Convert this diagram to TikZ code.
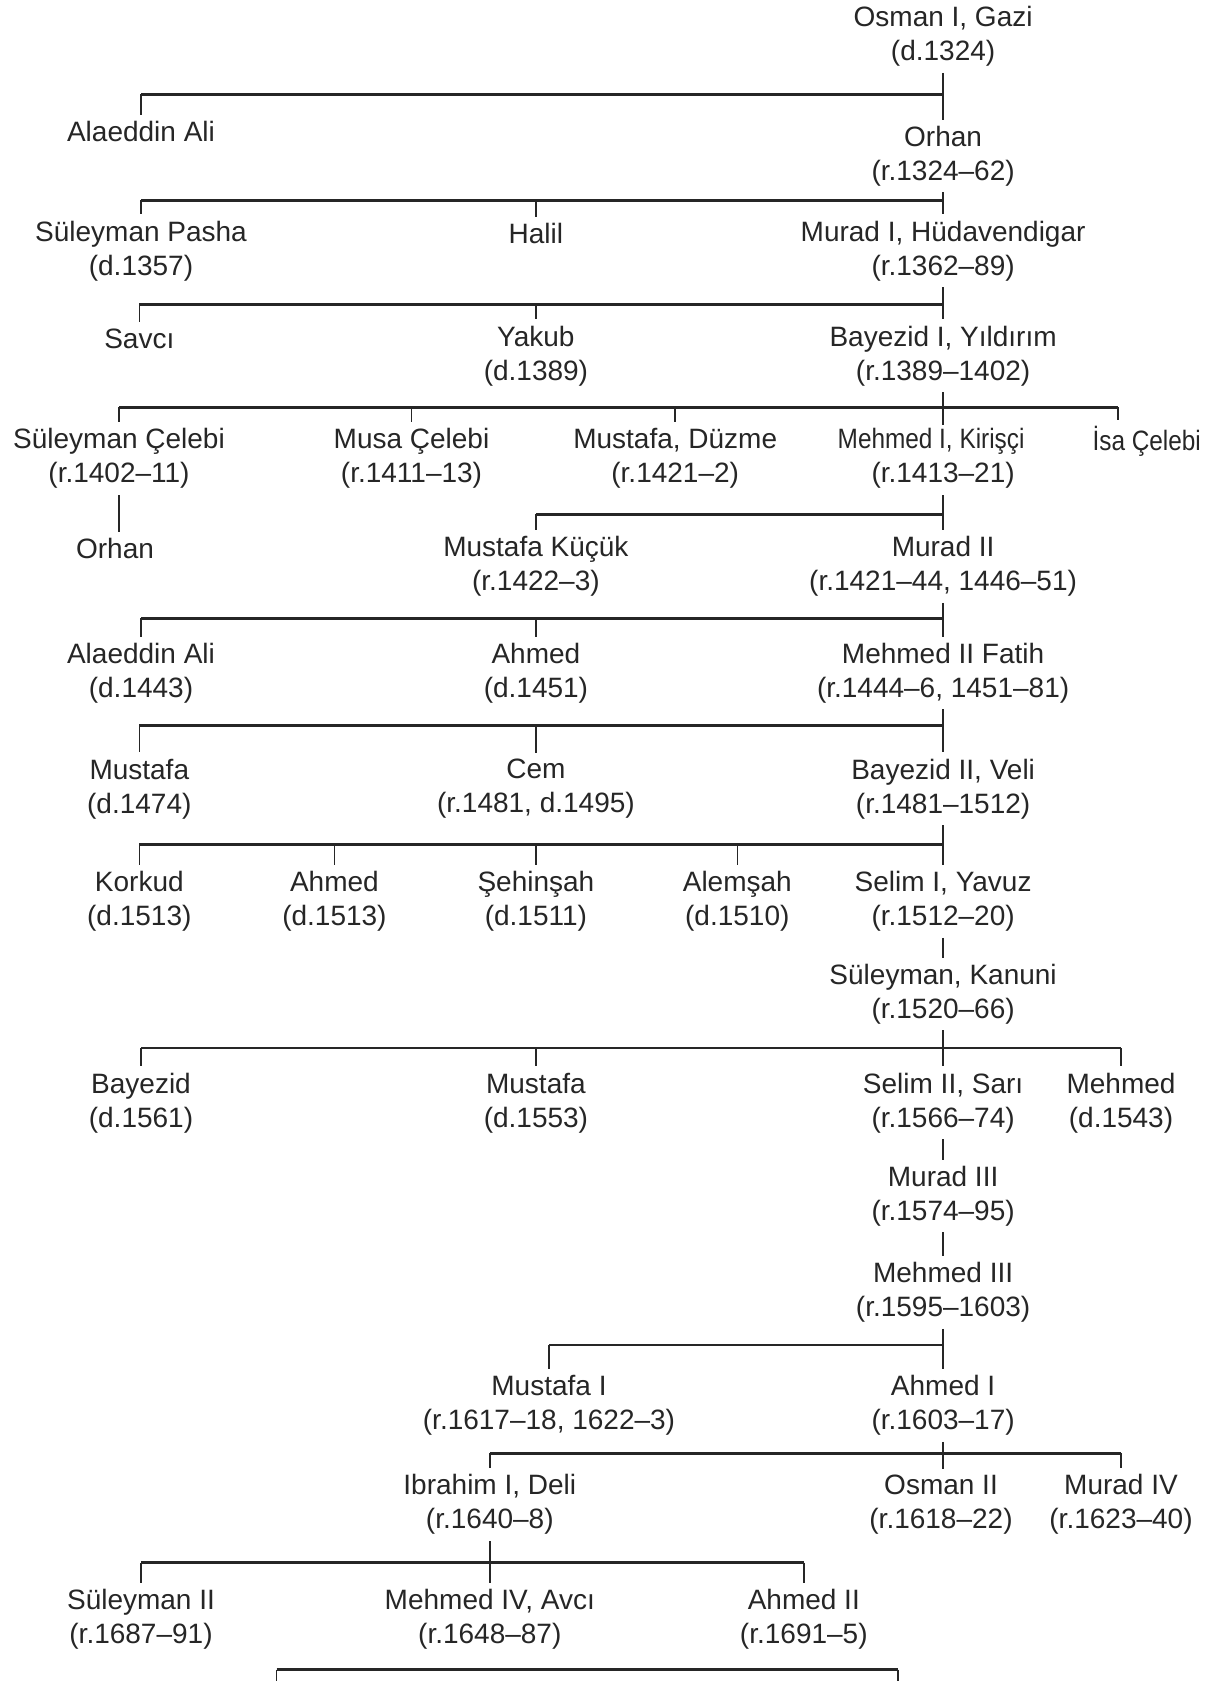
\documentclass[tikz,border=0pt]{standalone}
\usepackage{fontspec}
\setmainfont{Liberation Sans}
\newfontfamily\narrowfont[FakeStretch=0.87]{Liberation Sans}
\begin{document}
\begin{tikzpicture}[x=0.5pt,y=-0.5pt,
    person/.style={align=center,inner sep=3pt,text=black!85,font=\fontsize{14}{17}\selectfont},
    bar/.style={line width=1.3pt,black!85},
    tick/.style={line width=0.8pt,black!85}]
  \fill[white] (0,0) rectangle (1211,1681);
  \useasboundingbox (0,0) rectangle (1211,1681);
  % heights of the family bars
  \coordinate (b1) at (0,94.3);
  \coordinate (b2) at (0,200.4);
  \coordinate (b3) at (0,304.4);
  \coordinate (b4) at (0,407.2);
  \coordinate (b5) at (0,514.4);
  \coordinate (b6) at (0,618.4);
  \coordinate (b7) at (0,725.5);
  \coordinate (b8) at (0,844.5);
  \coordinate (b9) at (0,1048.1);
  \coordinate (b10) at (0,1345);
  \coordinate (b11) at (0,1453.2);
  \coordinate (b12) at (0,1562.5);

  \node[person] (osman) at (943.1,36.4) {Osman I, Gazi\\(d.1324)};
  \node[person] (alaeddinA) at (141,131.8) {Alaeddin Ali};
  \node[person] (orhan) at (943.1,156) {Orhan\\(r.1324–62)};

  \node[person] (suleymanP) at (141,250.8) {Süleyman Pasha\\(d.1357)};
  \node[person] (halil) at (535.9,233.6) {Halil};
  \node[person] (murad1) at (943.1,250.8) {Murad I, Hüdavendigar\\(r.1362–89)};

  \node[person] (savci) at (139.3,338.7) {Savcı};
  \node[person] (yakub) at (535.9,355.8) {Yakub\\(d.1389)};
  \node[person] (bayezid1) at (943.1,355.8) {Bayezid I, Yıldırım\\(r.1389–1402)};

  \node[person] (sulC) at (119,458.7) {Süleyman Çelebi\\(r.1402–11)};
  \node[person] (musa) at (411.5,458.7) {Musa Çelebi\\(r.1411–13)};
  \node[person] (mustafaD) at (675.2,458.7) {Mustafa, Düzme\\(r.1421–2)};
  \node[person] (mehmed1) at (943.1,458.7) {{\narrowfont Mehmed I, Kirişçi}\hspace*{12pt}\\(r.1413–21)};
  \node[person] (isa) at (1146.7,441.5) {\narrowfont İsa Çelebi};
  \coordinate (isaT) at ([xshift=-14.5pt]isa.north);

  \node[person] (orhanB) at (115,548.7) {Orhan};
  \node[person] (mustafaK) at (535.9,566.4) {Mustafa Küçük\\(r.1422–3)};
  \node[person] (murad2) at (943.1,566.4) {Murad II\\(r.1421–44, 1446–51)};

  \node[person] (alaeddinB) at (141,673) {Alaeddin Ali\\(d.1443)};
  \node[person] (ahmedA) at (535.9,673) {Ahmed\\(d.1451)};
  \node[person] (mehmed2) at (943.1,673) {Mehmed II Fatih\\(r.1444–6, 1451–81)};

  \node[person] (mustafaA) at (139.3,788.8) {Mustafa\\(d.1474)};
  \node[person] (cem) at (535.9,788.8) {Cem\\(r.1481, d.1495)};
  \node[person] (bayezid2) at (943.1,788.8) {Bayezid II, Veli\\(r.1481–1512)};

  \node[person] (korkud) at (139.3,901.3) {Korkud\\(d.1513)};
  \node[person] (ahmedB) at (334.4,901.3) {Ahmed\\(d.1513)};
  \node[person] (sehinsah) at (535.9,901.3) {Şehinşah\\(d.1511)};
  \node[person] (alemsah) at (737.3,901.3) {Alemşah\\(d.1510)};
  \node[person] (selim1) at (943.1,901.3) {Selim I, Yavuz\\(r.1512–20)};
  \node[person] (kanuni) at (943.1,994) {Süleyman, Kanuni\\(r.1520–66)};

  \node[person] (bayezidB) at (141,1102.8) {Bayezid\\(d.1561)};
  \node[person] (mustafaB) at (535.9,1102.8) {Mustafa\\(d.1553)};
  \node[person] (selim2) at (943.1,1102.8) {Selim II, Sarı\\(r.1566–74)};
  \node[person] (mehmedA) at (1121,1102.8) {Mehmed\\(d.1543)};
  \node[person] (murad3) at (943.1,1196) {Murad III\\(r.1574–95)};
  \node[person] (mehmed3) at (943.1,1292.5) {Mehmed III\\(r.1595–1603)};

  \node[person] (mustafa1) at (549,1405.5) {Mustafa I\\(r.1617–18, 1622–3)};
  \node[person] (ahmed1) at (943.1,1405.5) {Ahmed I\\(r.1603–17)};

  \node[person] (ibrahim) at (489.8,1504.7) {Ibrahim I, Deli\\(r.1640–8)};
  \node[person] (osman2) at (941,1504.7) {Osman II\\(r.1618–22)};
  \node[person] (murad4) at (1121,1504.7) {Murad IV\\(r.1623–40)};

  \node[person] (suleyman2) at (141,1619.3) {Süleyman II\\(r.1687–91)};
  \node[person] (mehmed4) at (489.8,1619.3) {Mehmed IV, Avcı\\(r.1648–87)};
  \node[person] (ahmed2) at (803.8,1619.3) {Ahmed II\\(r.1691–5)};

  \coordinate (b13l) at (276.5,1669.7);
  \coordinate (b13r) at (898.1,1669.7);

  % Osman I
  \draw[tick] (osman.south) -- (orhan.north);
  \draw[bar] (alaeddinA |- b1) -- (osman |- b1);
  \draw[tick] (alaeddinA |- b1) -- (alaeddinA.north);
  % Orhan
  \draw[tick] (orhan.south) -- (murad1.north);
  \draw[bar] (suleymanP |- b2) -- (orhan |- b2);
  \draw[tick] (suleymanP |- b2) -- (suleymanP.north);
  \draw[tick] (halil |- b2) -- (halil.north);
  % Murad I
  \draw[tick] (murad1.south) -- (bayezid1.north);
  \draw[bar] (savci |- b3) -- (murad1 |- b3);
  \draw[tick] (savci |- b3) -- (savci.north);
  \draw[tick] (yakub |- b3) -- (yakub.north);
  % Bayezid I
  \draw[tick] (bayezid1.south) -- (mehmed1 |- b4) -- ++(0,18);
  \draw[bar] (sulC |- b4) -- (isaT |- b4);
  \draw[tick] (sulC |- b4) -- (sulC.north);
  \draw[tick] (musa |- b4) -- (musa.north);
  \draw[tick] (mustafaD |- b4) -- (mustafaD.north);
  \draw[tick] (isaT |- b4) -- (isaT);
  \draw[tick] (sulC.south) -- (sulC |- orhanB.north);
  % Mehmed I
  \draw[tick] (mehmed1.south) -- (murad2.north);
  \draw[bar] (mustafaK |- b5) -- (mehmed1 |- b5);
  \draw[tick] (mustafaK |- b5) -- (mustafaK.north);
  % Murad II
  \draw[tick] (murad2.south) -- (mehmed2.north);
  \draw[bar] (alaeddinB |- b6) -- (murad2 |- b6);
  \draw[tick] (alaeddinB |- b6) -- (alaeddinB.north);
  \draw[tick] (ahmedA |- b6) -- (ahmedA.north);
  % Mehmed II
  \draw[tick] (mehmed2.south) -- (bayezid2.north);
  \draw[bar] (mustafaA |- b7) -- (mehmed2 |- b7);
  \draw[tick] (mustafaA |- b7) -- (mustafaA.north);
  \draw[tick] (cem |- b7) -- (cem.north);
  % Bayezid II
  \draw[tick] (bayezid2.south) -- (selim1.north);
  \draw[bar] (korkud |- b8) -- (bayezid2 |- b8);
  \draw[tick] (korkud |- b8) -- (korkud.north);
  \draw[tick] (ahmedB |- b8) -- (ahmedB.north);
  \draw[tick] (sehinsah |- b8) -- (sehinsah.north);
  \draw[tick] (alemsah |- b8) -- (alemsah.north);
  % Selim I
  \draw[tick] (selim1.south) -- (kanuni.north);
  % Suleyman
  \draw[tick] (kanuni.south) -- (selim2.north);
  \draw[bar] (bayezidB |- b9) -- (mehmedA |- b9);
  \draw[tick] (bayezidB |- b9) -- (bayezidB.north);
  \draw[tick] (mustafaB |- b9) -- (mustafaB.north);
  \draw[tick] (mehmedA |- b9) -- (mehmedA.north);
  \draw[tick] (selim2.south) -- (murad3.north);
  \draw[tick] (murad3.south) -- (mehmed3.north);
  % Mehmed III
  \draw[tick] (mehmed3.south) -- (ahmed1.north);
  \draw[bar] (mustafa1 |- b10) -- (mehmed3 |- b10);
  \draw[tick] (mustafa1 |- b10) -- (mustafa1.north);
  % Ahmed I
  \draw[tick] (ahmed1.south) -- (osman2.north -| ahmed1);
  \draw[bar] (ibrahim |- b11) -- (murad4 |- b11);
  \draw[tick] (ibrahim |- b11) -- (ibrahim.north);
  \draw[tick] (murad4 |- b11) -- (murad4.north);
  % Ibrahim I
  \draw[tick] (ibrahim.south) -- (mehmed4.north);
  \draw[bar] (suleyman2 |- b12) -- (ahmed2 |- b12);
  \draw[tick] (suleyman2 |- b12) -- (suleyman2.north);
  \draw[tick] (ahmed2 |- b12) -- (ahmed2.north);
  % Mehmed IV
  \draw[bar] (b13l) -- (b13r);
  \draw[tick] (b13l) -- +(0,20);
  \draw[tick] (b13r) -- +(0,20);
\end{tikzpicture}
\end{document}
